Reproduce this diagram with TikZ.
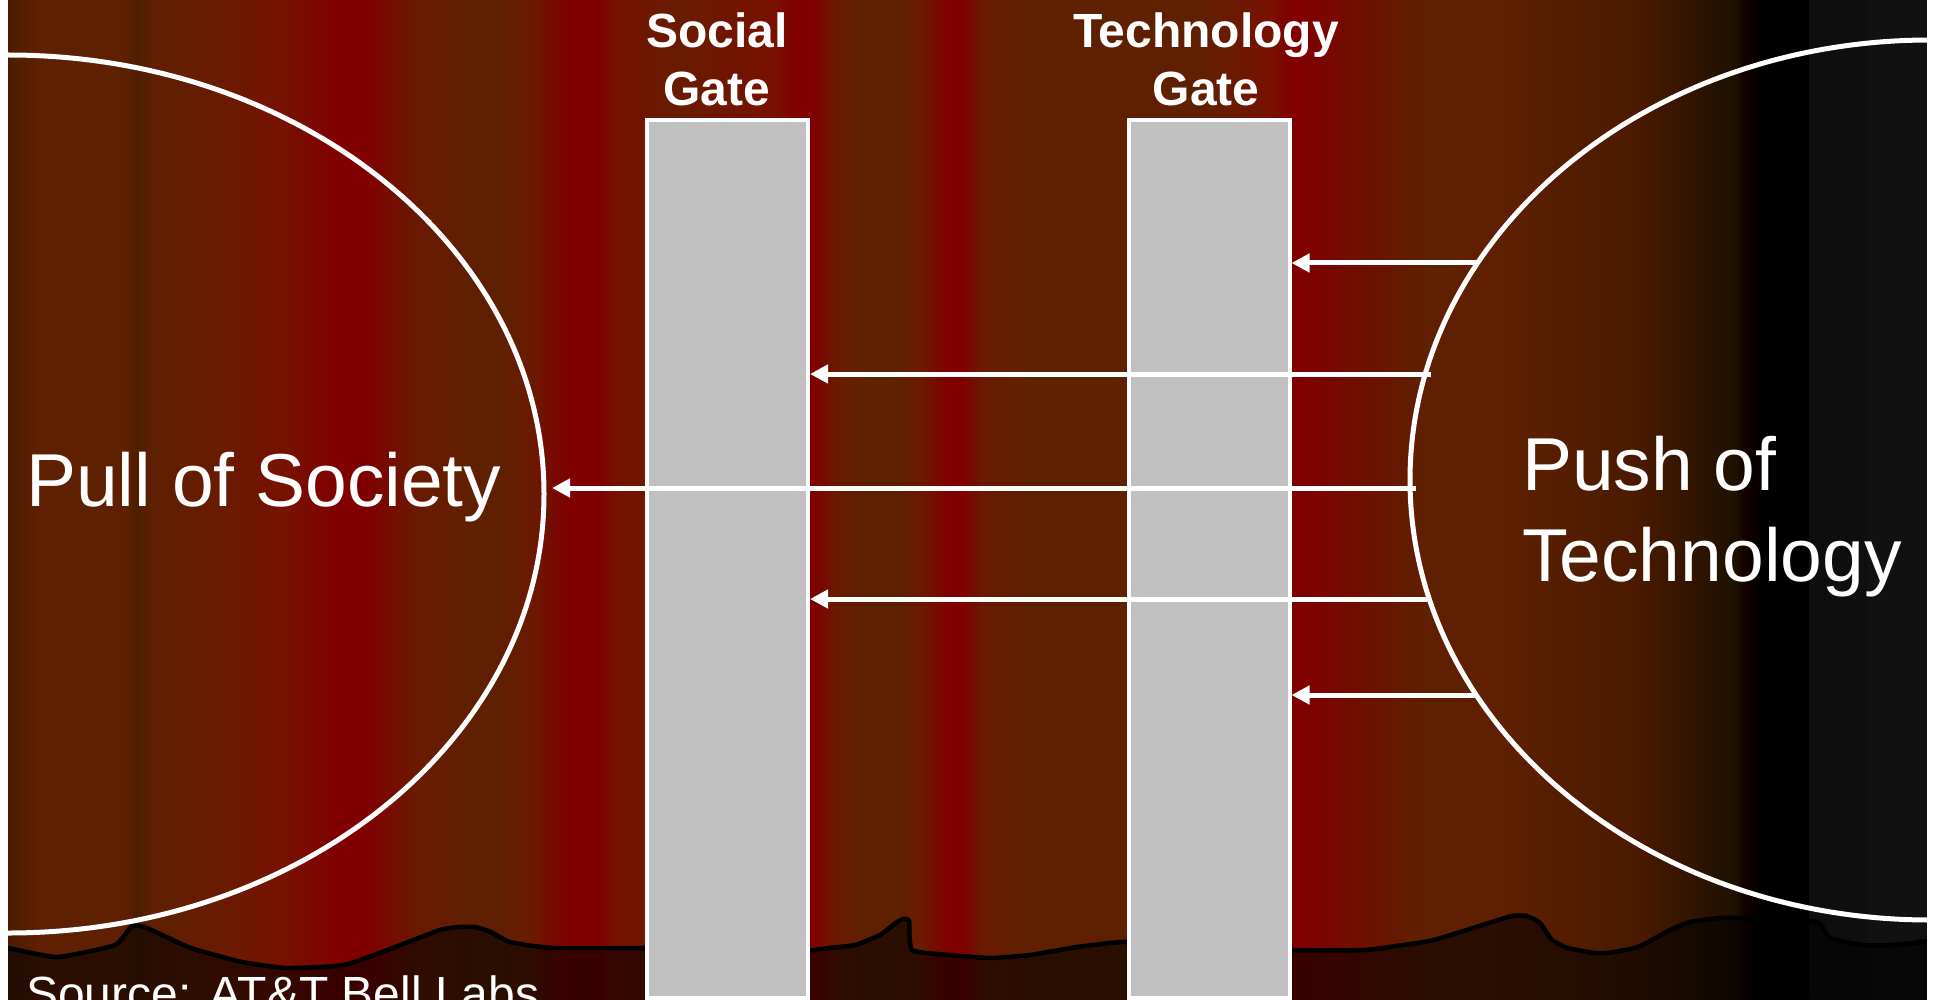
\documentclass[tikz,border=0pt]{standalone}
\usepackage{fontspec}
\setmainfont{Liberation Sans}
\usepackage{tikz}
\usetikzlibrary{shapes.geometric}
\usetikzlibrary{arrows.meta}

\definecolor{bn}{HTML}{5E2000}
\definecolor{rd}{HTML}{800000}
\definecolor{dk}{HTML}{4A1C00}
\definecolor{bd}{HTML}{4E1E00}
\definecolor{mA}{HTML}{6A1A00}
\definecolor{mB}{HTML}{781000}
\definecolor{sA}{HTML}{4A1A00}
\definecolor{sB}{HTML}{1C1000}
\definecolor{sC}{HTML}{140000}
\definecolor{gA}{HTML}{0E0E0E}
\definecolor{gB}{HTML}{111111}
\definecolor{gatefill}{HTML}{C0C0C0}

\tikzset{
  gate/.style={draw=white, line width=4pt, fill=gatefill, minimum width=161pt, minimum height=878pt, inner sep=0pt},
  lobe/.style={ellipse, draw=white, line width=5pt, inner sep=0pt},
  pushline/.style={draw=white, line width=5pt, -{Triangle[length=18pt,width=18pt]}},
  bigtext/.style={text=white, inner sep=0pt, font=\fontsize{75}{91}\selectfont},
  gatetext/.style={text=white, inner sep=0pt, align=center, font=\fontsize{48}{58}\selectfont\bfseries}
}

\begin{document}
\begin{tikzpicture}[x=1pt,y=-1pt]
        \useasboundingbox (0,0) rectangle (1937,1000);
        \clip (0,0) rectangle (1937,1000);
        \fill[bn] (8,0) rectangle (1927,1000);
        \foreach \x/\c [remember=\x as \xp (initially 8), remember=\c as \cp (initially dk)] in
          {37/bn,124/bn,137/bd,153/bn,228/mA,290/mB,336/rd,367/rd,415/mA,477/bn,498/bn,531/mA,568/rd,601/rd,
           612/mB,660/mA,691/mA,774/mB,795/rd,812/rd,837/mA,861/bn,899/bn,920/mA,948/rd,961/rd,982/mA,1023/bn,
           1189/bn,1231/mA,1272/mB,1290/rd,1300/rd,1424/bn,1494/bn,1637/sA,1737/sB,1744/sC,1764/black,1809/black,
           1810/gA,1867/gA,1868/gB,1927/gB}
          \shade[left color=\cp, right color=\c] (\xp-0.3,0) rectangle (\x+0.3,1000);

        \filldraw[fill=black, fill opacity=0.55, draw=black, line width=4.5pt, line join=round]
          plot[smooth, tension=0.3] coordinates {(-10,948) (8,948) (57,957) (115,945) (132,926) (147,928) (191,948) (242,962)
            (287,968) (344,965) (395,947) (440,930) (459,927) (475,927) (491,932) (510,942) (555,948) (700,948)
            (800,951) (829,948) (855,945) (880,935) (897,922) (903,919) (909,921) (912,950) (950,955) (990,958)
            (1030,955) (1077,947) (1122,942) (1200,940) (1290,950) (1364,950) (1403,945) (1434,940) (1492,922)
            (1512,916) (1527,916) (1540,923) (1552,940) (1568,948) (1594,953) (1607,953) (1638,947) (1670,930)
            (1690,922) (1721,918) (1766,918) (1817,922) (1830,938) (1862,945) (1894,945) (1937,940) (1950,940)}
          -- (1950,1020) -- (-10,1020) -- cycle;

        \node[gate] (social) at (727.5,559) {};
        \node[gate] (tech) at (1209,559) {};
        \node[lobe, minimum width=1072pt, minimum height=878pt] (pull) at (8,494) {};
        \node[lobe, minimum width=1040pt, minimum height=880pt] (push) at (1930,480) {};

        \coordinate (p1) at (1477,263);
        \coordinate (p2) at (1431,374);
        \coordinate (p3) at (1416,488);
        \coordinate (p4) at (1427,599);
        \coordinate (p5) at (1477,695);
        \draw[pushline] (p1) -- (p1 -| tech.east);
        \draw[pushline] (p2) -- (p2 -| social.east);
        \draw[pushline, shorten >=5.5pt] (p3) -- (p3 -| pull.east);
        \draw[pushline] (p4) -- (p4 -| social.east);
        \draw[pushline] (p5) -- (p5 -| tech.east);

        \node[gatetext, anchor=north] (socialtxt) at (717,12.5) {Social\\Gate};
        \node[gatetext, anchor=north] (techtxt) at (1206,12.5) {Technology\\Gate};
        \node[bigtext, anchor=base west] (pulltxt) at (26,506) {Pull of Society};
        \node[bigtext, anchor=north west, align=left] (pushtxt) at (1522,436) {Push of\\Technology};
        \node[text=white, inner sep=0pt, font=\fontsize{48}{58}\selectfont, anchor=base west] (srctxt) at (26,1010) {Source: AT\&T Bell Labs};

        \fill[white] (0,0) rectangle (8,1000);
        \fill[white] (1927,0) rectangle (1937,1000);
      \end{tikzpicture}
\end{document}
